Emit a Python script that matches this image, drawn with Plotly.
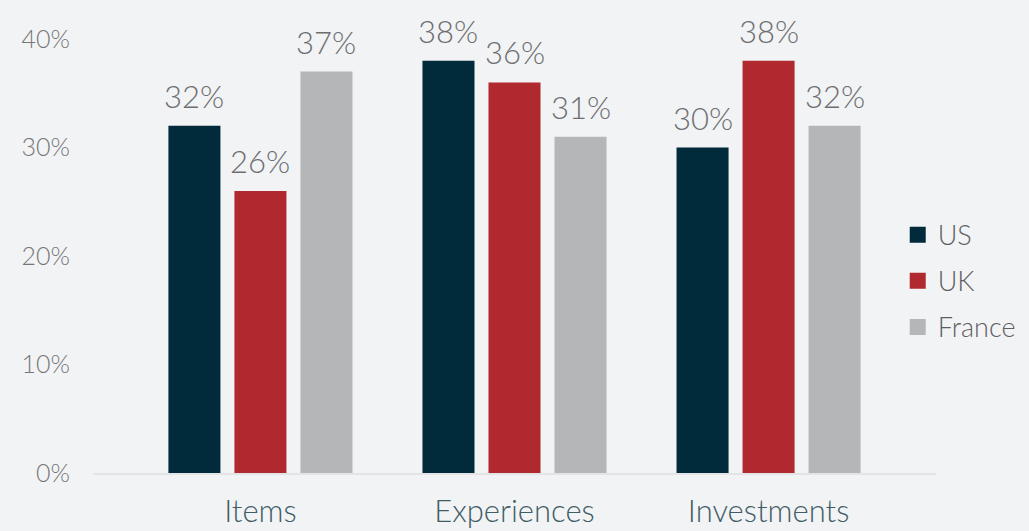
import plotly.graph_objects as go

# Share of respondents by category and country
categories = ["Items", "Experiences", "Investments"]
countries = ["US", "UK", "France"]
us_values = [32, 38, 30]
uk_values = [26, 36, 38]
france_values = [37, 31, 32]
y_ticks = [0, 10, 20, 30, 40]
y_tick_labels = ["0%", "10%", "20%", "30%", "40%"]

series = [us_values, uk_values, france_values]
colors = ["#012a3a", "#b0292e", "#b5b6b8"]

FONT = "Lato"
WEIGHT = 300
BG = "#f2f3f5"
BARGAP = 0.2205

fig = go.Figure()
for name, vals, col in zip(countries, series, colors):
    fig.add_trace(go.Bar(
        x=categories, y=vals, name=name, marker_color=col,
        marker_line_width=0, showlegend=False,
    ))
    # legend entry with a larger square swatch
    fig.add_trace(go.Scatter(
        x=[None], y=[None], mode="markers", name=name, legendgroup=name,
        marker=dict(symbol="square", size=16, color=col),
    ))

# value labels above each bar, placed at the grouped bar centres
n = len(series)
slot = (1 - BARGAP) / n
annotations = []
for i, vals in enumerate(series):
    offset = (i - (n - 1) / 2) * slot
    for j, v in enumerate(vals):
        annotations.append(dict(
            x=j + offset, y=v, xref="x", yref="y", text=f"{v}%",
            showarrow=False, yanchor="bottom", yshift=9,
            font=dict(family=FONT, size=31, color="#6e6e70", weight=WEIGHT),
        ))

fig.update_layout(
    width=1029, height=531,
    margin=dict(l=93, r=93, t=39, b=58, autoexpand=False),
    paper_bgcolor=BG, plot_bgcolor=BG,
    barmode="group", bargap=BARGAP, bargroupgap=0.212,
    annotations=annotations,
    legend=dict(
        x=0.9546, y=0.442, xanchor="left", yanchor="middle",
        font=dict(family=FONT, size=27, color="#5e5e60", weight=WEIGHT),
        bgcolor="rgba(0,0,0,0)", tracegroupgap=8, itemsizing="trace",
    ),
    xaxis=dict(
        type="category", range=[-0.659, 2.659], automargin=False,
        showline=True, linecolor="#e2e4e6", linewidth=2,
        showgrid=False, zeroline=False, ticks="",
        tickfont=dict(family=FONT, size=31, color="#3f5d66", weight=WEIGHT),
        ticklabelstandoff=10,
    ),
    yaxis=dict(
        range=[0, 40], tickvals=y_ticks, ticktext=y_tick_labels, automargin=False,
        showgrid=False, zeroline=False, showline=False, ticks="",
        tickfont=dict(family=FONT, size=25, color="#767678", weight=WEIGHT),
        ticklabelstandoff=22,
    ),
)

fig.write_html("out.html")
